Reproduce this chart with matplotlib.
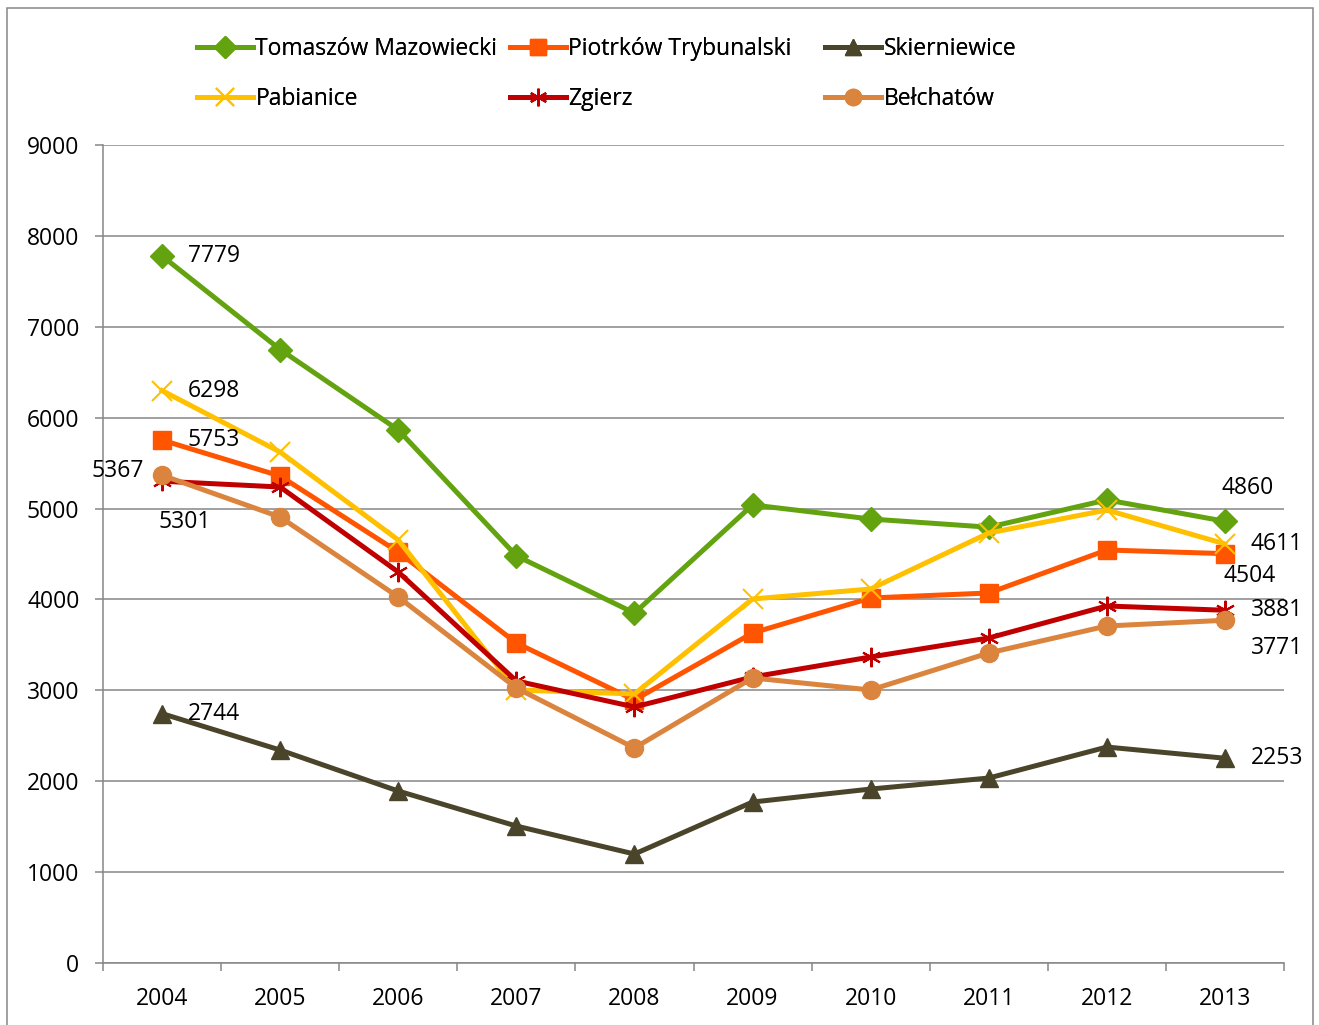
import matplotlib
matplotlib.use("Agg")
import matplotlib.pyplot as plt
from matplotlib.patches import Rectangle
import numpy as np

plt.rcParams['font.family'] = ['Open Sans', 'DejaVu Sans']

# Data
years = ['2004', '2005', '2006', '2007', '2008', '2009', '2010', '2011', '2012', '2013']
tomaszow = [7779, 6750, 5865, 4480, 3850, 5040, 4885, 4795, 5095, 4860]
piotrkow = [5753, 5358, 4522, 3521, 2894, 3631, 4016, 4071, 4544, 4504]
skierniewice = [2744, 2343, 1892, 1507, 1199, 1771, 1914, 2035, 2376, 2253]
pabianice = [6298, 5622, 4654, 3004, 2960, 4005, 4115, 4731, 4984, 4611]
zgierz = [5301, 5237, 4302, 3103, 2817, 3147, 3367, 3576, 3928, 3881]
belchatow = [5367, 4907, 4027, 3026, 2366, 3136, 3004, 3411, 3708, 3771]

names = ['Tomaszów Mazowiecki', 'Piotrków Trybunalski', 'Skierniewice',
         'Pabianice', 'Zgierz', 'Bełchatów']

fs = 16.5
fig = plt.figure(figsize=(13.19, 10.25), dpi=100)
ax = fig.add_axes([103/1319, 1-963/1025, 1181/1319, 818/1025])
x = np.arange(len(years))

gray = '#868686'
styles = [
    (tomaszow, '#62A30F', 'D', 12, {}),
    (piotrkow, '#FF5500', 's', 13, {}),
    (skierniewice, '#4A452A', '^', 13, {}),
    (pabianice, '#FFC000', 'x', 14, {'markeredgewidth': 1.5}),
    (zgierz, '#C00000', (6, 2, 0), 14, {'markeredgewidth': 1.5}),
    (belchatow, '#DB843D', 'o', 13, {}),
]
lines = {}
for name, (vals, col, mk, ms, extra) in zip(names, styles):
    ln, = ax.plot(x, vals, color=col, lw=3.6, marker=mk, markersize=ms,
                  markerfacecolor=col, markeredgecolor=col, label=name,
                  solid_joinstyle='round', **extra)
    lines[name] = ln

# data labels for first and last points (offsets in pixels)
labels = [
    (tomaszow, 0, (52, 0)), (tomaszow, 9, (23, 33)),
    (piotrkow, 0, (52, 0)), (piotrkow, 9, (25, -22)),
    (skierniewice, 0, (52, 0)), (skierniewice, 9, (52, 0)),
    (pabianice, 0, (52, 0)), (pabianice, 9, (52, 0)),
    (zgierz, 0, (23, -41)), (zgierz, 9, (52, 0)),
    (belchatow, 0, (-44, 4)), (belchatow, 9, (52, -28)),
]
for vals, i, off in labels:
    ax.annotate(str(vals[i]), (x[i], vals[i]), xytext=off,
                textcoords='offset pixels', ha='center', va='center',
                fontsize=fs, color='black')

ax.set_xlim(-0.5, 9.5)
ax.set_ylim(0, 9000)
ax.set_yticks(np.arange(0, 9001, 1000))
ax.set_xticks(x)
ax.set_xticklabels(years)
ax.set_xticks(np.arange(-0.5, 10, 1), minor=True)
ax.tick_params(axis='x', which='major', length=0, pad=17.5, labelsize=fs)
ax.tick_params(axis='x', which='minor', length=6, width=1.1, color=gray, direction='out')
ax.tick_params(axis='y', length=6, width=1.1, color=gray, pad=11, labelsize=fs)
ax.grid(axis='y', color=gray, lw=1.1)
ax.set_axisbelow(True)
for s in ['top', 'right']:
    ax.spines[s].set_visible(False)
for s in ['left', 'bottom']:
    ax.spines[s].set_color(gray)
    ax.spines[s].set_linewidth(1.1)

# legend: three columns placed separately
cols = [(['Tomaszów Mazowiecki', 'Pabianice'], 197),
        (['Piotrków Trybunalski', 'Zgierz'], 510),
        (['Skierniewice', 'Bełchatów'], 825)]
for entries, px in cols:
    lg = fig.legend([lines[n] for n in entries], entries, loc='upper left',
                    bbox_to_anchor=(px/1319, 1-37/1025), ncol=1, frameon=False,
                    fontsize=fs, handlelength=2.45, handletextpad=0.1,
                    labelspacing=1.13, borderpad=0, borderaxespad=0,
                    markerscale=0.9)
    fig.add_artist(lg)

fig.patches.append(Rectangle((7/1319, -0.01), 1306/1319, 1.01-8/1025,
                             transform=fig.transFigure, fill=False,
                             edgecolor=gray, lw=1.1))

fig.savefig('out.png', dpi=100)
